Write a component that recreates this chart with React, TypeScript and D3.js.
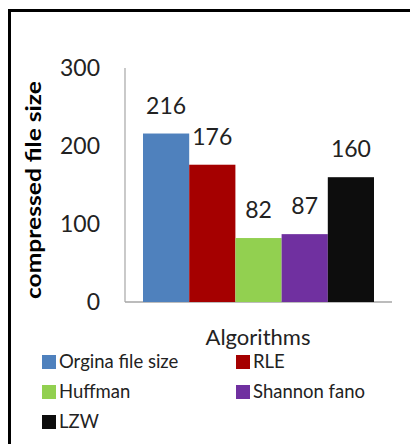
import React from "react";
import * as d3 from "d3";

const series = ["Orgina file size", "RLE", "Huffman", "Shannon fano", "LZW"];
const values = [216, 176, 82, 87, 160];
const colors = ["#4F81BD", "#A50000", "#92D050", "#7030A0", "#0D0D0D"];
const yTicks = [0, 100, 200, 300];

const W = 410;
const H = 444;
const FONT = "Lato, 'Open Sans', sans-serif";

export default function App() {
  const y = d3.scaleLinear().domain([0, 300]).range([302, 68]);
  const axisX = d3.scaleLinear().domain([0, 1]).range([125, 392]);
  const x = d3.scaleBand<string>().domain(series).range([143, 374]).paddingInner(0);

  const legendCols = [42, 236];
  const legendRowY = (i: number) => 362 + Math.floor(i / 2) * 30;

  return (
    <div style={{ position: "absolute", left: 0, top: 0 }}>
      <svg width={W} height={H} style={{ display: "block", background: "#fff" }}>
        {/* frame: top and left rules */}
        <line x1={8} x2={W} y1={10.5} y2={10.5} stroke="#000" strokeWidth={3} />
        <line x1={9.5} x2={9.5} y1={9} y2={H} stroke="#000" strokeWidth={3} />

        {/* y axis title */}
        <text
          transform={`translate(41,190) rotate(-90)`}
          textAnchor="middle"
          fontFamily={FONT}
          fontWeight="bold"
          fontSize={20}
          textLength={218}
          lengthAdjust="spacingAndGlyphs"
          fill="#000"
        >
          compressed file size
        </text>

        {/* y tick labels */}
        {yTicks.map((t) => (
          <text
            key={t}
            x={100}
            y={y(t)}
            dy="0.35em"
            textAnchor="end"
            fontFamily={FONT}
            fontSize={23}
            fill="#222"
          >
            {t}
          </text>
        ))}

        {/* axes */}
        <line x1={125} x2={125} y1={y(300)} y2={y(0)} stroke="#A6A6A6" strokeWidth={1.2} />
        <line x1={axisX(0)} x2={axisX(1)} y1={y(0)} y2={y(0)} stroke="#A6A6A6" strokeWidth={1.5} />

        {/* bars */}
        {series.map((s, i) => (
          <rect
            key={s}
            x={x(s)}
            y={y(values[i])}
            width={x.bandwidth()}
            height={y(0) - y(values[i])}
            fill={colors[i]}
          />
        ))}

        {/* value labels */}
        {series.map((s, i) => (
          <text
            key={s}
            x={(x(s) as number) + x.bandwidth() / 2}
            y={y(values[i]) - 28}
            dy="0.35em"
            textAnchor="middle"
            fontFamily={FONT}
            fontSize={23}
            fill="#222"
          >
            {values[i]}
          </text>
        ))}

        {/* x axis title */}
        <text x={258} y={337} dy="0.35em" textAnchor="middle" fontFamily={FONT} fontSize={22} fill="#222">
          Algorithms
        </text>

        {/* legend */}
        {series.map((s, i) => {
          const cx = legendCols[i % 2];
          const cy = legendRowY(i);
          return (
            <g key={s}>
              <rect x={cx} y={cy - 7} width={14} height={14} fill={colors[i]} />
              <text x={cx + 17} y={cy} dy="0.35em" fontFamily={FONT} fontSize={18.5} fill="#222">
                {s}
              </text>
            </g>
          );
        })}
      </svg>
    </div>
  );
}
